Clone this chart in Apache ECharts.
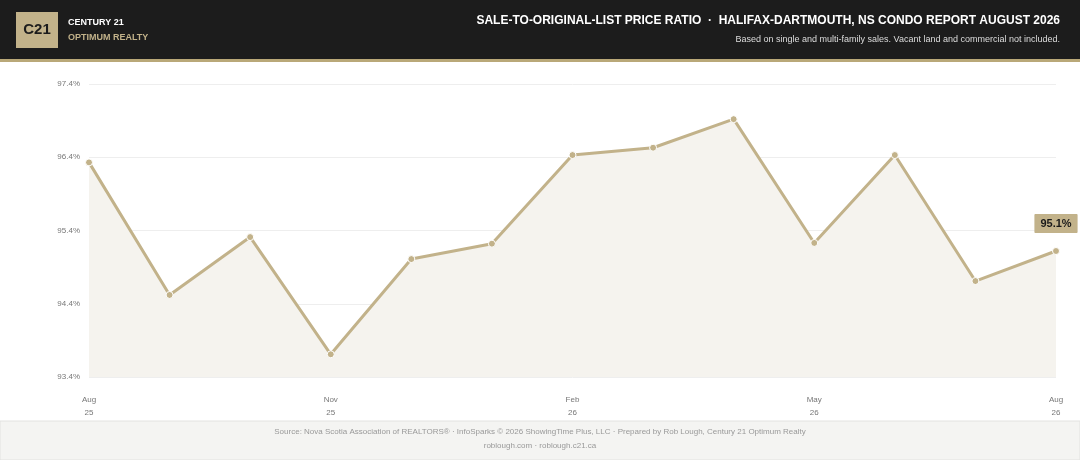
<!DOCTYPE html>
<html><head><meta charset="utf-8">
<script src="https://cdn.jsdelivr.net/npm/echarts@6/dist/echarts.min.js"></script>
<style>html,body{margin:0;padding:0;background:#fff}#c{width:1080px;height:460px}</style>
</head><body><div id="c"></div>
<script>
const categories = ['Aug\n25','Sep\n25','Oct\n25','Nov\n25','Dec\n25','Jan\n26','Feb\n26','Mar\n26','Apr\n26','May\n26','Jun\n26','Jul\n26','Aug\n26'];
const ratioValues = [96.33, 94.52, 95.31, 93.71, 95.01, 95.22, 96.43, 96.53, 96.92, 95.23, 96.43, 94.71, 95.12];
const shownLabels = ['Aug\n25','Nov\n25','Feb\n26','May\n26','Aug\n26'];
const gold = '#c2b28a';
const chart = echarts.init(document.getElementById('c'));
const data = ratioValues.map((v,i)=> i===ratioValues.length-1 ? {value:v, label:{show:true, position:'top', distance:14, formatter:p=>p.value.toFixed(1)+'%', backgroundColor:'#c2b28a', color:'#1a1a1a', fontWeight:'bold', fontSize:11, padding:[4,6], borderRadius:1, offset:[0,0]}} : v);
chart.setOption({
  animation:false,
  textStyle:{fontFamily:'Liberation Sans, Arial, sans-serif'},
  graphic:[
    {type:'rect',shape:{x:0,y:0,width:1080,height:60},style:{fill:'#1c1c1c'}},
    {type:'rect',shape:{x:0,y:59,width:1080,height:3},style:{fill:'#b9a878'}},
    {type:'rect',shape:{x:16,y:12,width:42,height:36},style:{fill:'#c2b28a'}},
    {type:'text',x:37,y:30,style:{text:'C21',fill:'#1c1c1c',font:'bold 15px Liberation Sans, Arial',align:'center',verticalAlign:'middle'}},
    {type:'text',x:68,y:18,style:{text:'CENTURY 21',fill:'#fff',font:'bold 9px Liberation Sans, Arial'}},
    {type:'text',x:68,y:33,style:{text:'OPTIMUM REALTY',fill:'#c2b28a',font:'bold 9px Liberation Sans, Arial'}},
    {type:'text',right:20,y:15,style:{text:'SALE-TO-ORIGINAL-LIST PRICE RATIO  ·  HALIFAX-DARTMOUTH, NS CONDO REPORT AUGUST 2026',fill:'#fff',font:'bold 12px Liberation Sans, Arial',align:'right'}},
    {type:'text',right:20,y:35,style:{text:'Based on single and multi-family sales. Vacant land and commercial not included.',fill:'#ddd',font:'9px Liberation Sans, Arial',align:'right'}},
    {type:'rect',shape:{x:0,y:421,width:1080,height:39},style:{fill:'#f4f4f2',stroke:'#e2e2e0',lineWidth:1}},
    {type:'text',x:540,y:428,style:{text:'Source: Nova Scotia Association of REALTORS® · InfoSparks © 2026 ShowingTime Plus, LLC · Prepared by Rob Lough, Century 21 Optimum Realty',fill:'#999',font:'8px Liberation Sans, Arial',align:'center'}},
    {type:'text',x:540,y:442,style:{text:'roblough.com · roblough.c21.ca',fill:'#999',font:'8px Liberation Sans, Arial',align:'center'}}
  ],
  grid:{left:89,right:24,top:84,bottom:83},
  xAxis:{type:'category',boundaryGap:false,data:categories,
    axisLine:{show:false},axisTick:{show:false},
    axisLabel:{color:'#777',fontSize:8,lineHeight:13,margin:16,interval:0,formatter:v=>shownLabels.includes(v)?v:''}},
  yAxis:{type:'value',min:93.4,max:97.4,interval:1,
    axisLabel:{color:'#777',fontSize:8,margin:9,formatter:v=>v.toFixed(1)+'%'},
    splitLine:{lineStyle:{color:'#eeeeee'}}},
  series:[{type:'line',data:data,symbol:'circle',symbolSize:7,
    lineStyle:{color:gold,width:3},itemStyle:{color:gold,borderColor:'#fff',borderWidth:1},
    areaStyle:{color:'#f5f3ee',opacity:1}}]
});
</script></body></html>
